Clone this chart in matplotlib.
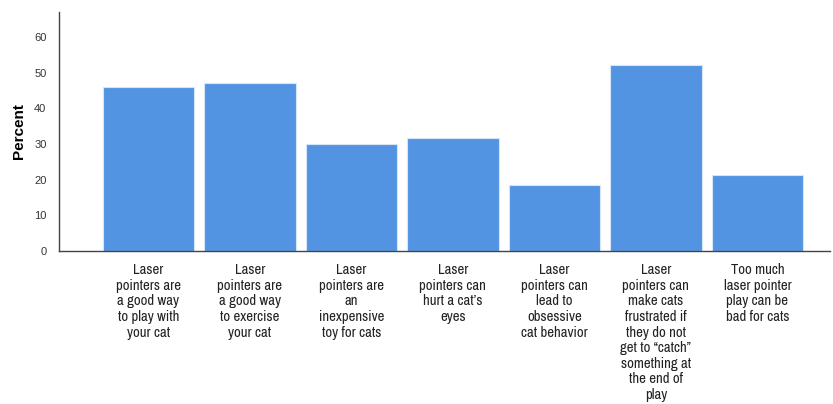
import matplotlib.pyplot as plt
from matplotlib import font_manager
import numpy as np

# survey statements and share of respondents agreeing
labels = [
    "Laser\npointers are\na good way\nto play with\nyour cat",
    "Laser\npointers are\na good way\nto exercise\nyour cat",
    "Laser\npointers are\nan\ninexpensive\ntoy for cats",
    "Laser\npointers can\nhurt a cat\u2019s\neyes",
    "Laser\npointers can\nlead to\nobsessive\ncat behavior",
    "Laser\npointers can\nmake cats\nfrustrated if\nthey do not\nget to \u201ccatch\u201d\nsomething at\nthe end of\nplay",
    "Too much\nlaser pointer\nplay can be\nbad for cats",
]
percent = [46.0, 47.1, 30.0, 31.8, 18.6, 52.2, 21.3]
yticks = [0, 10, 20, 30, 40, 50, 60]

plt.rcParams['font.family'] = ['Liberation Sans', 'DejaVu Sans']

# the category labels use a narrow face if one is installed
lab_font = {'family': 'Liberation Sans', 'size': 9.6, 'stretch': 'normal'}
for f in font_manager.fontManager.ttflist:
    if 'Narrow' in f.name or 'Condensed' in f.name:
        lab_font = {'family': f.name, 'size': 10.6, 'stretch': 'normal'}
        break
    if f.name == 'DejaVu Sans' and f.stretch in ('condensed', 'semi-condensed') \
            and f.weight in ('normal', 400):
        lab_font = {'family': 'DejaVu Sans', 'size': 10, 'stretch': 'condensed'}

fig = plt.figure(figsize=(8.33, 4.04), dpi=100)
ax = fig.add_axes([0.0708, 0.379, 0.925, 0.591])

x = np.arange(len(labels))
ax.bar(x, percent, width=0.9, color='#5294E2', edgecolor='#d6e6f8', linewidth=0.8)

ax.set_xlim(-0.88, 6.71)
ax.set_ylim(0, 67)
ax.set_yticks(yticks)
ax.set_yticklabels([str(v) for v in yticks], fontsize=8, color='#333333')
ax.set_xticks(x)
ax.set_xticklabels(labels, color='#222222', linespacing=1.14, va='top',
                   family=lab_font['family'], fontsize=lab_font['size'],
                   fontstretch=lab_font['stretch'])
ax.tick_params(axis='y', length=0, pad=9)
ax.tick_params(axis='x', length=0, pad=9)

ax.set_ylabel('Percent', fontsize=11, fontweight='bold', labelpad=6)

for s in ['top', 'right']:
    ax.spines[s].set_visible(False)
for s in ['left', 'bottom']:
    ax.spines[s].set_color('#444444')
    ax.spines[s].set_linewidth(1)

fig.savefig('out.png', dpi=100)
